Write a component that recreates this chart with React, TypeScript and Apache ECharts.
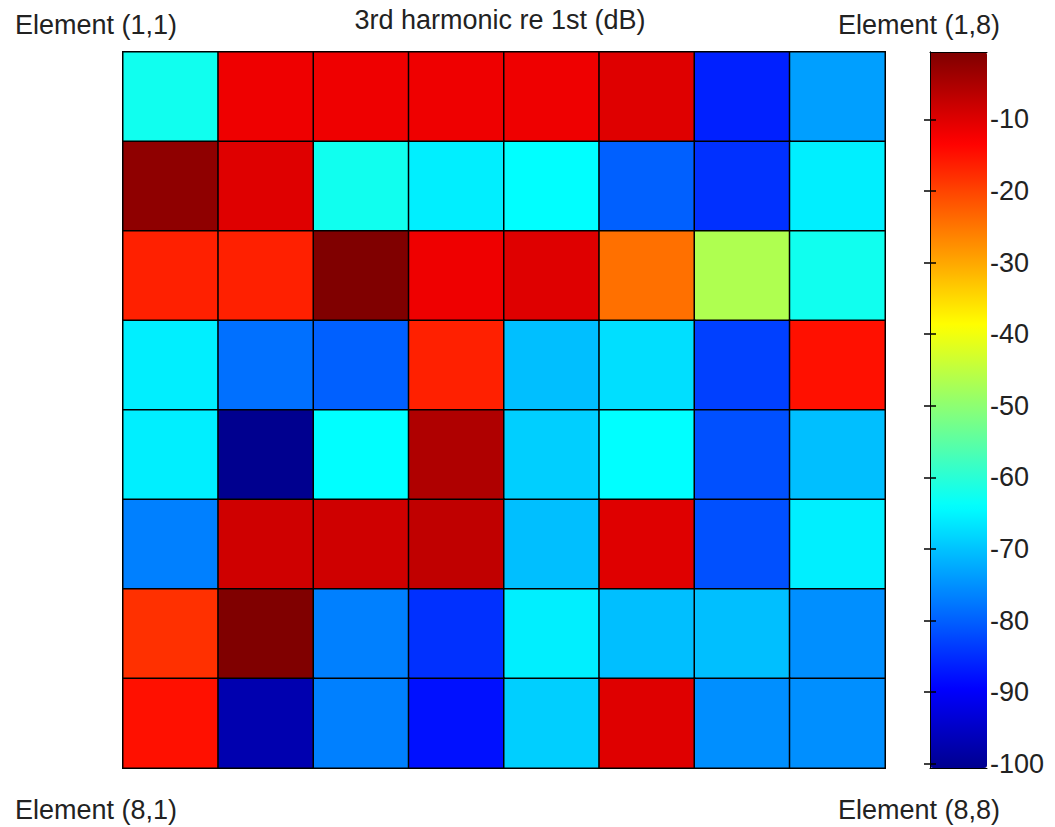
import React, { useEffect, useRef } from "react";
import * as echarts from "echarts";

// 3rd harmonic level relative to the fundamental, in dB, per array element.
// Rows run from element row 1 (top) to row 8 (bottom); columns 1..8 left to right.
const row1 = [-62.5, -11.7, -11.7, -11.7, -11.7, -10.1, -86.3, -73.6];
const row2 = [-2.2, -10.1, -62.5, -65.7, -64.1, -80.0, -84.7, -65.7];
const row3 = [-16.5, -16.5, -0.6, -11.7, -10.1, -24.4, -46.6, -62.5];
const row4 = [-65.7, -78.4, -80.0, -16.5, -70.4, -67.3, -83.1, -14.9];
const row5 = [-65.7, -100.6, -64.1, -5.4, -68.9, -64.1, -81.6, -70.4];
const row6 = [-76.8, -8.5, -8.5, -7.0, -70.4, -10.1, -81.6, -65.7];
const row7 = [-18.1, -0.6, -76.8, -84.7, -65.7, -70.4, -70.4, -75.2];
const row8 = [-14.9, -97.4, -76.8, -87.9, -68.9, -10.1, -75.2, -75.2];

const rows = [row1, row2, row3, row4, row5, row6, row7, row8];
const rowLabels = ["1", "2", "3", "4", "5", "6", "7", "8"];
const colLabels = ["1", "2", "3", "4", "5", "6", "7", "8"];

// Colour scale limits and the ticks shown on the colour bar.
const scaleMin = -100.6;
const scaleMax = -0.6;
const colorbarTicks = [-100, -90, -80, -70, -60, -50, -40, -30, -20, -10];

const titleText = "3rd harmonic re 1st (dB)";
const cornerLabels = {
  topLeft: "Element (1,1)",
  topRight: "Element (1,8)",
  bottomLeft: "Element (8,1)",
  bottomRight: "Element (8,8)",
};

// 64-step "jet" colormap: dark blue -> blue -> cyan -> yellow -> red -> dark red.
function jetColors(n: number): string[] {
  const m = Math.ceil(n / 4);
  const u: number[] = [];
  for (let i = 1; i <= m; i++) u.push(i / m);
  for (let i = 0; i < m - 1; i++) u.push(1);
  for (let i = m; i >= 1; i--) u.push(i / m);
  const gStart = Math.ceil(m / 2) - (n % 4 === 1 ? 1 : 0);
  const r = new Array(n).fill(0);
  const g = new Array(n).fill(0);
  const b = new Array(n).fill(0);
  const gIdx: number[] = [];
  for (let i = 1; i <= u.length; i++) gIdx.push(gStart + i);
  const rIdx = gIdx.map((v) => v + m).filter((v) => v <= n);
  const bIdx = gIdx.map((v) => v - m).filter((v) => v >= 1);
  const gKeep = gIdx.filter((v) => v <= n);
  rIdx.forEach((row, i) => (r[row - 1] = u[i]));
  gKeep.forEach((row, i) => (g[row - 1] = u[i]));
  bIdx.forEach((row, i) => (b[row - 1] = u[u.length - bIdx.length + i]));
  const hex = (x: number) =>
    Math.round(x * 255)
      .toString(16)
      .padStart(2, "0");
  return r.map((_, i) => "#" + hex(r[i]) + hex(g[i]) + hex(b[i]));
}

const FONT = "'Liberation Sans', Arial, sans-serif";
const TEXT_COLOR = "#222222";
const FONT_SIZE = 27;

// Plot geometry (pixels)
const plotLeft = 123;
const plotTop = 52;
const plotWidth = 762;
const plotHeight = 716;
const barLeft = 930;
const barWidth = 57;

export default function App() {
  const ref = useRef<HTMLDivElement>(null);

  useEffect(() => {
    if (!ref.current) return;
    const chart = echarts.init(ref.current, undefined, { renderer: "svg" });

    const cells: [number, number, number][] = [];
    rows.forEach((vals, r) => vals.forEach((v, c) => cells.push([c, r, v])));

    const cornerText = (text: string, x: number, y: number, align: string) => ({
      type: "text",
      x,
      y,
      style: {
        text,
        font: `${FONT_SIZE}px ${FONT}`,
        fill: TEXT_COLOR,
        align,
        verticalAlign: "middle",
      },
    });

    chart.setOption({
      animation: false,
      backgroundColor: "#ffffff",
      grid: [
        {
          left: plotLeft,
          top: plotTop,
          width: plotWidth,
          height: plotHeight,
          show: true,
          borderColor: "#8c8c8c",
          borderWidth: 1,
          backgroundColor: "transparent",
        },
        {
          left: barLeft,
          top: plotTop,
          width: barWidth,
          height: plotHeight,
          show: false,
        },
      ],
      xAxis: [
        {
          type: "category",
          gridIndex: 0,
          data: colLabels,
          show: false,
        },
        {
          type: "value",
          gridIndex: 1,
          min: 0,
          max: 1,
          position: "top",
          z: 10,
          axisLine: { show: true, lineStyle: { color: "#000", width: 1 } },
          axisTick: { show: false },
          axisLabel: { show: false },
          splitLine: { show: false },
        },
        {
          type: "value",
          gridIndex: 1,
          min: 0,
          max: 1,
          position: "bottom",
          z: 10,
          axisLine: { show: true, lineStyle: { color: "#000", width: 1 } },
          axisTick: { show: false },
          axisLabel: { show: false },
          splitLine: { show: false },
        },
      ],
      yAxis: [
        {
          type: "category",
          gridIndex: 0,
          data: rowLabels,
          inverse: true,
          show: false,
        },
        {
          type: "value",
          gridIndex: 1,
          position: "right",
          min: scaleMin,
          max: scaleMax,
          z: 10,
          axisLine: { show: true, lineStyle: { color: "#000", width: 1 } },
          axisTick: {
            show: true,
            inside: true,
            length: 6,
            customValues: colorbarTicks,
            lineStyle: { color: "#000", width: 1.5 },
          },
          axisLabel: {
            show: true,
            customValues: colorbarTicks,
            margin: 3,
            color: TEXT_COLOR,
            fontSize: FONT_SIZE,
            fontFamily: FONT,
          },
          splitLine: { show: false },
        },
        {
          type: "value",
          gridIndex: 1,
          position: "left",
          min: scaleMin,
          max: scaleMax,
          z: 10,
          axisLine: { show: true, lineStyle: { color: "#000", width: 1 } },
          axisTick: {
            show: true,
            inside: true,
            length: 6,
            customValues: colorbarTicks,
            lineStyle: { color: "#000", width: 1.5 },
          },
          axisLabel: { show: false },
          splitLine: { show: false },
        },
      ],
      visualMap: {
        type: "continuous",
        seriesIndex: 0,
        min: scaleMin,
        max: scaleMax,
        calculable: false,
        hoverLink: false,
        orient: "vertical",
        left: barLeft,
        top: plotTop,
        itemWidth: barWidth,
        itemHeight: plotHeight,
        padding: 0,
        z: 1,
        inRange: { color: jetColors(64) },
      },
      series: [
        {
          type: "heatmap",
          xAxisIndex: 0,
          yAxisIndex: 0,
          data: cells,
          itemStyle: { borderColor: "#000", borderWidth: 1.5 },
          emphasis: { disabled: true },
          label: { show: false },
        },
      ],
      graphic: [
        cornerText(titleText, 500, 20, "center"),
        cornerText(cornerLabels.topLeft, 15, 25, "left"),
        cornerText(cornerLabels.topRight, 1000, 25, "right"),
        cornerText(cornerLabels.bottomLeft, 15, 810, "left"),
        cornerText(cornerLabels.bottomRight, 1000, 810, "right"),
      ],
    });

    return () => chart.dispose();
  }, []);

  return (
    <div
      ref={ref}
      style={{ position: "fixed", left: 0, top: 0, width: 1055, height: 827 }}
    />
  );
}
